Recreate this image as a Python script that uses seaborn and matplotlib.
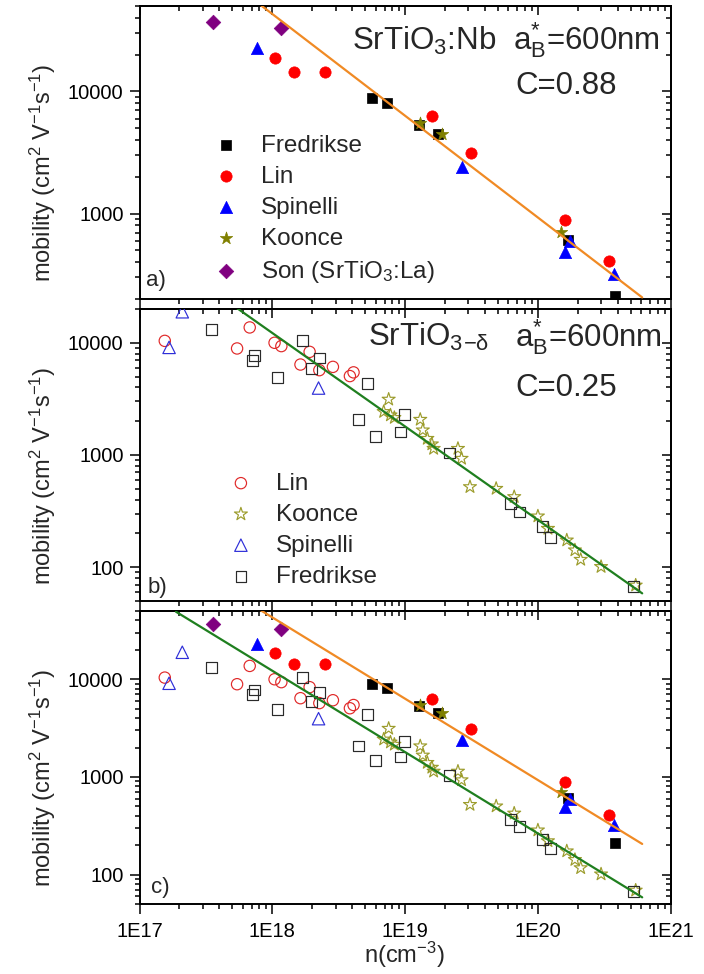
import numpy as np
import matplotlib
matplotlib.use("Agg")
import matplotlib.pyplot as plt
import seaborn as sns
from matplotlib.ticker import LogLocator, NullFormatter

# ---------------- data: Nb-doped SrTiO3 (filled symbols) ----------------
fred_nb_n = [5.64e18, 7.35e18, 1.28e19, 1.76e19, 1.69e20, 3.78e20]
fred_nb_mu = [8900, 8050, 5350, 4500, 610, 210]

lin_nb_n = [1.05e18, 1.45e18, 2.49e18, 1.59e19, 3.16e19, 1.60e20, 3.46e20]
lin_nb_mu = [18700, 14500, 14400, 6330, 3120, 880, 408]

spin_nb_n = [7.65e17, 2.70e19, 1.59e20, 1.73e20, 3.77e20]
spin_nb_mu = [22800, 2400, 488, 597, 322]

koon_nb_n = [1.30e19, 1.90e19, 1.50e20]
koon_nb_mu = [5480, 4520, 703]

son_n = [3.57e17, 1.17e18]
son_mu = [36900, 33000]

# ---------------- data: SrTiO3-delta (open symbols) ----------------
lin_od_n = [1.55e17, 5.43e17, 6.76e17, 1.04e18, 1.17e18, 1.63e18, 1.91e18,
            2.26e18, 2.86e18, 3.84e18, 4.09e18]
lin_od_mu = [10400, 8900, 13700, 10000, 9340, 6400, 8300, 5700, 6100, 5050, 5450]

spin_od_n = [1.67e17, 2.10e17, 2.23e18]
spin_od_mu = [9100, 18900, 3950]

fred_od_n = [3.48e17, 7.09e17, 7.31e17, 1.10e18, 1.68e18, 1.98e18, 2.28e18,
             4.47e18, 5.18e18, 6.00e18, 9.29e18, 9.95e18, 2.17e19, 6.22e19,
             7.28e19, 1.08e20, 1.24e20, 5.24e20]
fred_od_mu = [13100, 7000, 7760, 4910, 10400, 5900, 7300, 2070, 4320, 1470,
              1600, 2300, 1043, 368, 311, 230, 184, 67]

koon_od_n = [6.9e18, 7.52e18, 7.76e18, 8.3e18, 1.30e19, 1.36e19, 1.47e19,
             1.59e19, 1.64e19, 2.50e19, 2.66e19, 3.08e19, 4.85e19, 6.63e19,
             1.00e20, 1.19e20, 1.65e20, 1.90e20, 2.10e20, 2.99e20, 5.45e20]
koon_od_mu = [2430, 3130, 2265, 2150, 2070, 1665, 1400, 1250, 1140, 1140, 930,
              520, 502, 424, 285, 221, 174, 142, 117, 101, 69]

# ---------------- model lines (C = 0.88 and C = 0.25, a_B* = 600 nm) ----------------
fit_nb_n = [8.0e17, 6.1e20]
fit_nb_mu = [51800, 206]
fit_od_n = [1.88e17, 6.1e20]
fit_od_mu = [49200, 58.5]

xtick_vals = [1e17, 1e18, 1e19, 1e20, 1e21]
xtick_labels = ["1E17", "1E18", "1E19", "1E20", "1E21"]

# ---------------- style ----------------
sns.set_theme(style="ticks")
plt.rcParams["font.family"] = ["Liberation Sans", "DejaVu Sans"]
plt.rcParams["mathtext.fontset"] = "custom"
plt.rcParams["mathtext.rm"] = "Liberation Sans"
plt.rcParams["mathtext.it"] = "Liberation Sans:italic"
plt.rcParams["mathtext.bf"] = "Liberation Sans:bold"
plt.rcParams["axes.linewidth"] = 1.4

C_BLACK = "#000000"
C_RED = "#FF0000"
C_BLUE = "#0000FF"
C_OLIVE = "#808000"
C_PURPLE = "#800080"
C_ORANGE = "#F08A24"
C_GREEN = "#1F7F1F"

BIG = 22.5
LEG = 17.5
TICK = 14.5
LAB = 17

W, H = 704, 974
fig = plt.figure(figsize=(W / 100, H / 100), dpi=100)


def panel(left, top, right, bottom):
    return fig.add_axes([left / W, 1 - bottom / H, (right - left) / W, (bottom - top) / H])


ax_a = panel(139.5, 6, 670.7, 299)
ax_b = panel(139.5, 309, 670.7, 601)
ax_c = panel(139.5, 611, 670.7, 904)


def setup(ax, ylim, yticks, show_x):
    ax.set_xscale("log")
    ax.set_yscale("log")
    ax.set_xlim(1e17, 1e21)
    ax.set_ylim(*ylim)
    ax.set_xticks(xtick_vals, labels=xtick_labels if show_x else [""] * len(xtick_vals))
    ax.set_yticks(yticks, labels=[str(int(v)) for v in yticks])
    ax.xaxis.set_minor_locator(LogLocator(base=10, subs=np.arange(2, 10)))
    ax.yaxis.set_minor_locator(LogLocator(base=10, subs=np.arange(2, 10)))
    ax.xaxis.set_minor_formatter(NullFormatter())
    ax.yaxis.set_minor_formatter(NullFormatter())
    ax.set_ylim(*ylim)
    ax.tick_params(which="both", direction="out", top=False, right=False,
                   width=1.1, color="black", labelsize=TICK, labelcolor="black")
    ax.tick_params(which="major", length=7.0)
    ax.tick_params(which="minor", length=3.8)
    ax.tick_params(axis="y", which="major", pad=4.5)
    ax.tick_params(axis="x", which="major", pad=6)
    for s in ax.spines.values():
        s.set_color("black")
        s.set_linewidth(1.4)
    sx = ax.secondary_xaxis("top")
    sx.tick_params(which="both", direction="in", labeltop=False, width=1.1, color="black")
    sx.tick_params(which="major", length=6.5)
    sx.tick_params(which="minor", length=3.6)
    sy = ax.secondary_yaxis("right")
    sy.tick_params(which="both", direction="in", labelright=False, width=1.1, color="black")
    sy.tick_params(which="major", length=6.5)
    sy.tick_params(which="minor", length=3.6)
    ax.text(-0.182, 0.43, r"mobility (cm$^2$ V$^{-1}$s$^{-1}$)", rotation=90,
            ha="center", va="center", fontsize=LAB, transform=ax.transAxes)


def dots(ax, n, mu, marker, color, size, filled=True, label=None, z=3):
    if filled:
        sns.scatterplot(x=n, y=mu, ax=ax, marker=marker, s=size, color=color,
                        edgecolor=color, linewidth=0.5, label=label, legend=False, zorder=z)
    else:
        sns.scatterplot(x=n, y=mu, ax=ax, marker=marker, s=size, color=color,
                        facecolor="none", edgecolor=color, linewidth=0.85,
                        label=label, legend=False, zorder=z)


def fit(ax, n, mu, color):
    sns.lineplot(x=n, y=mu, ax=ax, color=color, linewidth=1.6, estimator=None,
                 errorbar=None, legend=False, zorder=5)


def nb_series(ax, labels):
    dots(ax, fred_nb_n, fred_nb_mu, "s", C_BLACK, 55, label="Fredrikse" if labels else None)
    dots(ax, lin_nb_n, lin_nb_mu, "o", C_RED, 66, label="Lin" if labels else None)
    dots(ax, spin_nb_n, spin_nb_mu, "^", C_BLUE, 78, label="Spinelli" if labels else None)
    dots(ax, koon_nb_n, koon_nb_mu, "*", C_OLIVE, 88, label="Koonce" if labels else None)
    dots(ax, son_n, son_mu, "D", C_PURPLE, 55,
         label=r"Son (SrTiO$_3$:La)" if labels else None)


def od_series(ax, labels):
    dots(ax, lin_od_n, lin_od_mu, "o", "#E02828", 66, filled=False, label="Lin" if labels else None)
    dots(ax, koon_od_n, koon_od_mu, "*", "#9C9C2C", 96, filled=False, label="Koonce" if labels else None)
    dots(ax, spin_od_n, spin_od_mu, "^", "#2E2ED8", 80, filled=False, label="Spinelli" if labels else None)
    dots(ax, fred_od_n, fred_od_mu, "s", "#2A2A2A", 60, filled=False, label="Fredrikse" if labels else None)


def legend(ax, x, y):
    ax.legend(loc="upper left", bbox_to_anchor=(x, y), frameon=False, fontsize=LEG,
              handlelength=1.0, handletextpad=0.95, labelspacing=0.37, borderpad=0,
              borderaxespad=0, scatterpoints=1)


# ---------------- panel a: SrTiO3:Nb ----------------
setup(ax_a, (200, 50000), [1000, 10000], False)
nb_series(ax_a, True)
fit(ax_a, fit_nb_n, fit_nb_mu, C_ORANGE)
legend(ax_a, 0.140, 0.561)
ax_a.text(0.400, 0.850, r"SrTiO$_3$:Nb", fontsize=BIG, transform=ax_a.transAxes, va="baseline")
ax_a.text(0.703, 0.850, r"a$_\mathrm{B}^{*}$=600nm", fontsize=BIG, transform=ax_a.transAxes, va="baseline")
ax_a.text(0.707, 0.700, "C=0.88", fontsize=BIG, transform=ax_a.transAxes, va="baseline")
ax_a.text(0.012, 0.045, "a)", fontsize=16, transform=ax_a.transAxes, va="baseline")

# ---------------- panel b: SrTiO3-delta ----------------
setup(ax_b, (50, 20000), [100, 1000, 10000], False)
od_series(ax_b, True)
fit(ax_b, fit_od_n, fit_od_mu, C_GREEN)
legend(ax_b, 0.168, 0.440)
ax_b.text(0.430, 0.873, r"SrTiO$_{3}$$_{-\mathrm{\delta}}$", fontsize=BIG,
          transform=ax_b.transAxes, va="baseline")
ax_b.text(0.706, 0.873, r"a$_\mathrm{B}^{*}$=600nm", fontsize=BIG, transform=ax_b.transAxes, va="baseline")
ax_b.text(0.708, 0.702, "C=0.25", fontsize=BIG, transform=ax_b.transAxes, va="baseline")
ax_b.text(0.016, 0.027, "b)", fontsize=16, transform=ax_b.transAxes, va="baseline")

# ---------------- panel c: both data sets ----------------
setup(ax_c, (50, 50000), [100, 1000, 10000], True)
od_series(ax_c, False)
nb_series(ax_c, False)
fit(ax_c, fit_od_n, fit_od_mu, C_GREEN)
fit(ax_c, fit_nb_n, fit_nb_mu, C_ORANGE)
ax_c.text(0.021, 0.036, "c)", fontsize=16, transform=ax_c.transAxes, va="baseline")

fig.text(404 / W, 1 - 955 / H, r"n(cm$^{-3}$)", ha="center", va="center", fontsize=LAB)

fig.savefig("out.png", dpi=100)
